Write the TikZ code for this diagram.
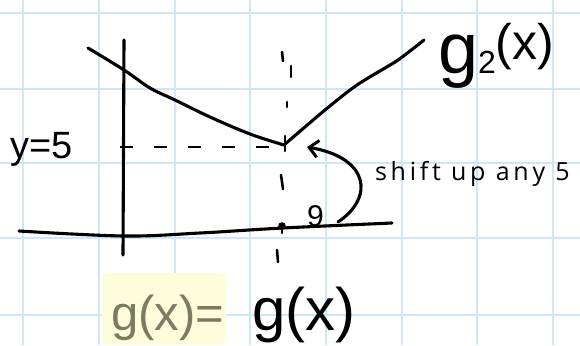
\documentclass[tikz,border=0pt]{standalone}
\usepackage{fontspec}
\setmainfont{Liberation Sans}
\newfontfamily\thinfont[LetterSpace=15]{Open Sans}
\usetikzlibrary{arrows.meta}
\definecolor{gridblue}{HTML}{CDE7F8}
\definecolor{hilite}{HTML}{FDFDDC}
\definecolor{olive}{HTML}{7B7A62}
\tikzset{
  gridline/.style={draw=gridblue, line width=2pt},
  ink/.style={draw=black, line width=3.1pt, line cap=round, line join=round},
  tick/.style={draw=black, line width=2.6pt, line cap=round},
  label/.style={inner sep=0pt, outer sep=0pt, anchor=base west}
}
\begin{document}
\begin{tikzpicture}[x=1pt,y=-1pt]
\useasboundingbox (0,0) rectangle (580,345);
\fill[white] (0,0) rectangle (580,345);
% grid
\foreach \gx in {23,99,175,250,326,402,477,553}
  \draw[gridline] (\gx,0) -- (\gx,345);
\foreach \gy in {13,89,163,238,315}
  \draw[gridline] (0,\gy) -- (580,\gy);
% highlight
\fill[hilite, rounded corners=6pt] (102,273) rectangle (226,345);
% named points
\coordinate (v) at (284,145);
\coordinate (ytop) at (124,40);
\coordinate (ybot) at (123,255);
\coordinate (dl) at (120,147);
\coordinate (dr) at (283,147);
\coordinate (astart) at (338,222);
\coordinate (atip) at (307,147);
% axes
\draw[ink] (ytop) -- (ybot);
\draw[ink] plot[smooth, tension=0.6] coordinates {(19,231) (124,236) (200,233) (283,228) (392,223)};
% curve g2
\draw[ink] plot[smooth, tension=0.6] coordinates {(88,48) (124,70) (150,88) (175,100) (210,117) (250,134) (v)};
\draw[ink] plot[smooth, tension=0.5] coordinates {(v) (325,110) (357,85) (395,62) (410,51) (424,40)};
% dashed horizontal
\draw[black, line width=2.6pt, dash pattern=on 13pt off 21pt, dash phase=0pt] (dl) -- (dr);
% vertical dashed marks
\draw[tick] (282,52) -- (283,61);
\draw[tick] (291,66) -- (291,77);
\draw[tick] (287,102) -- (287,107);
\draw[tick] (285,136) -- (285,151);
\draw[tick] (281,175) -- (283,189);
\draw[tick] (282,227) -- (282,233);
\fill[black] (282,226) circle (3.8pt);
\draw[tick] (277,250) -- (278,262);
% arrow
\draw[ink, -{Straight Barb[length=9pt,width=17pt,line width=3pt]}] (astart) .. controls (374,198) and (370,158) .. (atip);
% labels
\node[label, font=\fontsize{38}{38}\selectfont] (y5) at (10,158) {y=5};
\node[label, font=\fontsize{30}{30}\selectfont] (nine) at (307,226) {9};
\node[label, font=\thinfont\fontsize{25}{25}\selectfont] (shift) at (375,180) {shift up any 5};
\node[label] (g2) at (438,74) {\fontsize{72}{72}\selectfont g\fontsize{32}{32}\selectfont 2\raisebox{14pt}{\fontsize{50}{50}\selectfont(x)}};
\node[label, text=olive, font=\fontsize{49}{49}\selectfont] (gl) at (111,330) {g(x)=};
\node[label, font=\fontsize{60}{60}\selectfont] (gr) at (252,330) {g(x)};
\end{tikzpicture}
\end{document}
